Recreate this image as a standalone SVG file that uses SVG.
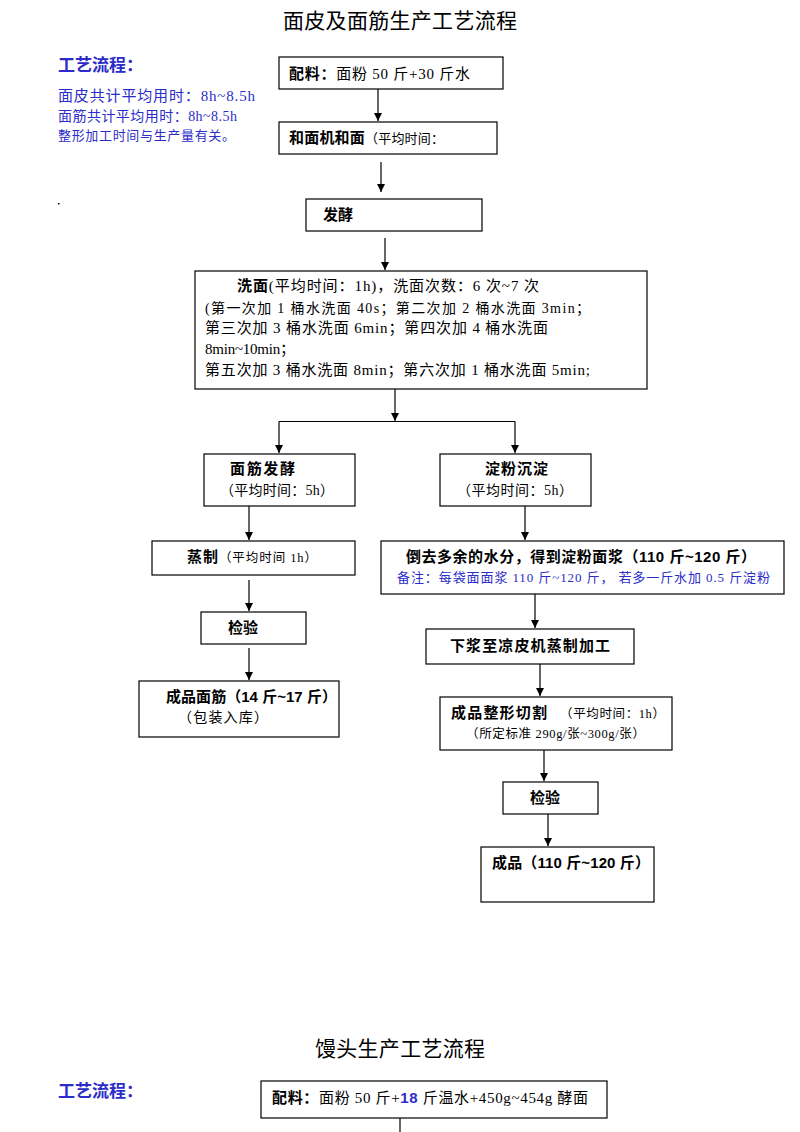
<svg xmlns="http://www.w3.org/2000/svg" width="800" height="1132" viewBox="0 0 800 1132">
<style>
.box{fill:#fff;stroke:#000;stroke-width:1.2}
.t{font-family:"Liberation Serif","Noto Sans CJK SC",serif;font-size:14px;fill:#000}
.b{font-family:"Liberation Sans","Noto Sans CJK SC",sans-serif;font-weight:bold;font-size:14px;fill:#000}
.h{font-family:"Liberation Sans","Noto Sans CJK SC",sans-serif;font-size:21px;fill:#000}
.blue{fill:#2c2cc8}
.c line,.c path{stroke:#000;stroke-width:1.2;fill:none}
</style>
<defs>
<marker id="ah" markerWidth="10" markerHeight="10" refX="8" refY="4" orient="auto" markerUnits="userSpaceOnUse">
<path d="M0,0 L8,4 L0,8 Z" fill="#000"/>
</marker>
</defs>
<rect width="800" height="1132" fill="#fff"/>

<text class="h" x="283" y="28" textLength="234" lengthAdjust="spacing">面皮及面筋生产工艺流程</text>

<g id="legend">
<text class="b blue" x="58" y="71" style="font-size:17px">工艺流程：</text>
<text class="t blue" x="58" y="101" style="font-size:15px" textLength="197" lengthAdjust="spacing">面皮共计平均用时：8h~8.5h</text>
<text class="t blue" x="58" y="121" style="font-size:14px" textLength="179" lengthAdjust="spacing">面筋共计平均用时：8h~8.5h</text>
<text class="t blue" x="58" y="140" style="font-size:13px" textLength="177" lengthAdjust="spacing">整形加工时间与生产量有关。</text>
<rect x="58" y="203" width="1.5" height="1.5" fill="#000"/>
</g>

<g class="c" id="connectors">
<line x1="378" y1="89" x2="378" y2="121" marker-end="url(#ah)"/>
<line x1="381" y1="162" x2="381" y2="192" marker-end="url(#ah)"/>
<line x1="385" y1="238" x2="385" y2="270" marker-end="url(#ah)"/>
<line x1="395" y1="389" x2="395" y2="421" marker-end="url(#ah)"/>
<path d="M279,421.5 L515,421.5"/>
<line x1="279" y1="421.5" x2="279" y2="453" marker-end="url(#ah)"/>
<line x1="515" y1="421.5" x2="515" y2="453" marker-end="url(#ah)"/>
<line x1="249" y1="506" x2="249" y2="540" marker-end="url(#ah)"/>
<line x1="525" y1="506" x2="525" y2="540" marker-end="url(#ah)"/>
<line x1="249" y1="580" x2="249" y2="611" marker-end="url(#ah)"/>
<line x1="535" y1="594" x2="535" y2="628" marker-end="url(#ah)"/>
<line x1="249" y1="648" x2="249" y2="680" marker-end="url(#ah)"/>
<line x1="540" y1="664" x2="540" y2="696" marker-end="url(#ah)"/>
<line x1="544" y1="750" x2="544" y2="781" marker-end="url(#ah)"/>
<line x1="548" y1="814" x2="548" y2="846" marker-end="url(#ah)"/>
<line x1="400" y1="1118" x2="400" y2="1132"/>
</g>

<g id="n1">
<rect class="box" x="279" y="57" width="224" height="32"/>
<text class="t" x="289" y="79" style="font-size:15px" textLength="181" lengthAdjust="spacing"><tspan class="b" style="font-size:15px">配料：</tspan>面粉 50 斤+30 斤水</text>
</g>

<g id="n2">
<rect class="box" x="279" y="122" width="218" height="32"/>
<text class="b" x="289" y="143" style="font-size:15px" textLength="155" lengthAdjust="spacing">和面机和面<tspan class="t" style="font-size:13px;font-weight:normal">（平均时间：</tspan></text>
</g>

<g id="n3">
<rect class="box" x="306" y="199" width="176" height="32"/>
<text class="b" x="323" y="220" style="font-size:15px">发酵</text>
</g>

<g id="n4">
<rect class="box" x="195" y="271" width="452" height="118"/>
<text class="t" x="237" y="291" style="font-size:15px" textLength="302" lengthAdjust="spacing"><tspan class="b" style="font-size:15px">洗面</tspan>(平均时间：1h)，洗面次数：6 次~7 次</text>
<text class="t" x="205" y="313" style="font-size:14px" textLength="385" lengthAdjust="spacing">(第一次加 1 桶水洗面 40s；第二次加 2 桶水洗面 3min；</text>
<text class="t" x="205" y="333" style="font-size:15px" textLength="343" lengthAdjust="spacing">第三次加 3 桶水洗面 6min；第四次加 4 桶水洗面</text>
<text class="t" x="205" y="354" style="font-size:15px" textLength="90" lengthAdjust="spacing">8min~10min；</text>
<text class="t" x="205" y="375" style="font-size:15px" textLength="385" lengthAdjust="spacing">第五次加 3 桶水洗面 8min；第六次加 1 桶水洗面 5min;</text>
</g>

<g id="n5">
<rect class="box" x="204" y="454" width="151" height="52"/>
<text class="b" x="230" y="474" style="font-size:15px" textLength="65" lengthAdjust="spacing">面筋发酵</text>
<text class="t" x="220" y="495" style="font-size:14px" textLength="114" lengthAdjust="spacing">（平均时间：5h）</text>
</g>

<g id="n6">
<rect class="box" x="440" y="454" width="151" height="52"/>
<text class="b" x="485" y="474" style="font-size:15px" textLength="63" lengthAdjust="spacing">淀粉沉淀</text>
<text class="t" x="457" y="495" style="font-size:14px" textLength="116" lengthAdjust="spacing">（平均时间：5h）</text>
</g>

<g id="n7">
<rect class="box" x="152" y="541" width="203" height="34"/>
<text class="b" x="187" y="562" style="font-size:15px" textLength="130" lengthAdjust="spacing">蒸制<tspan class="t" style="font-size:12.5px;font-weight:normal">（平均时间 1h）</tspan></text>
</g>

<g id="n8">
<rect class="box" x="381" y="541" width="403" height="53"/>
<text class="b" x="406" y="562" style="font-size:15px" textLength="350" lengthAdjust="spacing">倒去多余的水分，得到淀粉面浆（110 斤~120 斤）</text>
<text class="t blue" x="397" y="582" style="font-size:13px" textLength="373" lengthAdjust="spacing">备注：每袋面面浆 110 斤~120 斤，  若多一斤水加 0.5 斤淀粉</text>
</g>

<g id="n9">
<rect class="box" x="201" y="612" width="105" height="32"/>
<text class="b" x="228" y="633" style="font-size:15px">检验</text>
</g>

<g id="n10">
<rect class="box" x="426" y="629" width="208" height="35"/>
<text class="b" x="450" y="651" style="font-size:15px" textLength="160" lengthAdjust="spacing">下浆至凉皮机蒸制加工</text>
</g>

<g id="n11">
<rect class="box" x="139" y="681" width="200" height="56"/>
<text class="b" x="166" y="702" style="font-size:15px" textLength="171" lengthAdjust="spacing">成品面筋（14 斤~17 斤）</text>
<text class="t" x="178" y="722" style="font-size:14px" textLength="90" lengthAdjust="spacing">（包装入库）</text>
</g>

<g id="n12">
<rect class="box" x="440" y="697" width="232" height="53"/>
<text class="b" x="451" y="718" style="font-size:15px" textLength="96" lengthAdjust="spacing">成品整形切割</text>
<text class="t" x="560" y="718" style="font-size:12.5px" textLength="105" lengthAdjust="spacing">（平均时间：1h）</text>
<text class="t" x="466" y="738" style="font-size:12.5px" textLength="179" lengthAdjust="spacing">（所定标准 290g/张~300g/张）</text>
</g>

<g id="n13">
<rect class="box" x="503" y="782" width="95" height="32"/>
<text class="b" x="530" y="803" style="font-size:15px">检验</text>
</g>

<g id="n14">
<rect class="box" x="481" y="847" width="173" height="55"/>
<text class="b" x="492" y="868" style="font-size:15px" textLength="158" lengthAdjust="spacing">成品（110 斤~120 斤）</text>
</g>

<text class="h" x="315" y="1056" textLength="170" lengthAdjust="spacing">馒头生产工艺流程</text>
<text class="b blue" x="58" y="1097" style="font-size:17px">工艺流程：</text>

<g id="n15">
<rect class="box" x="261" y="1081" width="346" height="37"/>
<text class="t" x="272" y="1103" style="font-size:15px" textLength="316" lengthAdjust="spacing"><tspan class="b" style="font-size:15px">配料：</tspan>面粉 50 斤+<tspan class="b blue" style="font-size:15px">18</tspan> 斤温水+450g~454g 酵面</text>
</g>
</svg>
